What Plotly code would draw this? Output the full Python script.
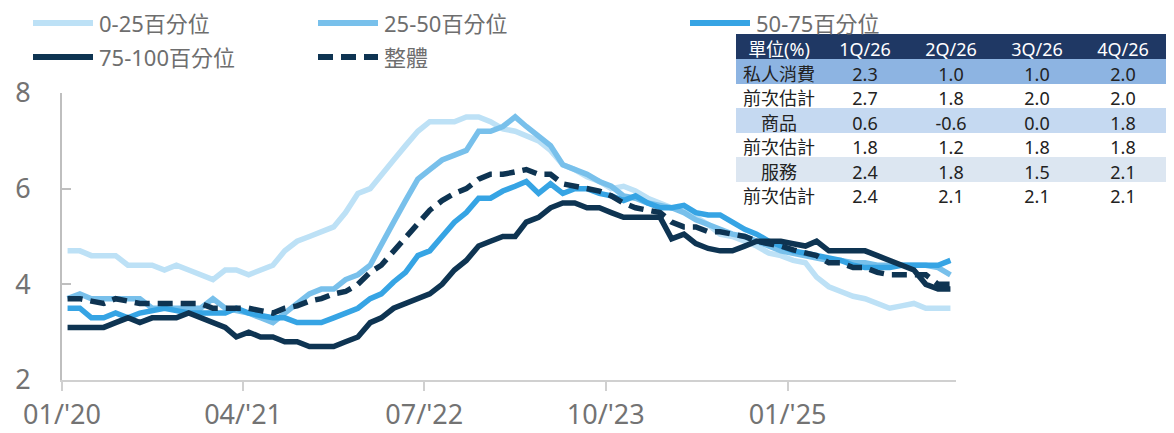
import plotly.graph_objects as go

# The page body has an 8px margin, so the figure is drawn 8px smaller and every
# pixel position below is measured in window pixels and converted with PX / PY.
OFF = 8
W, H = 1174 - OFF, 433 - OFF


def PX(x):
    return (x - OFF) / W


def PY(y):
    return 1 - (y - OFF) / H


# ---------------- data ----------------
n_months = 74
dates = [f"{2020 + i // 12}-{i % 12 + 1:02d}-15" for i in range(n_months)]

p0_25 = [4.7, 4.7, 4.6, 4.6, 4.6, 4.4, 4.4, 4.4, 4.3, 4.4,
         4.3, 4.2, 4.1, 4.3, 4.3, 4.2, 4.3, 4.4, 4.7, 4.9,
         5.0, 5.1, 5.2, 5.5, 5.9, 6.0, 6.3, 6.6, 6.9, 7.2,
         7.4, 7.4, 7.4, 7.5, 7.5, 7.4, 7.25, 7.2, 7.1, 7.0,
         6.8, 6.5, 6.4, 6.25, 6.15, 6.0, 6.05, 5.95, 5.8, 5.7,
         5.6, 5.55, 5.4, 5.25, 5.05, 5.0, 4.9, 4.8, 4.65, 4.6,
         4.5, 4.45, 4.15, 3.95, 3.85, 3.75, 3.7, 3.6, 3.5, 3.55,
         3.6, 3.5, 3.5, 3.5]

p25_50 = [3.7, 3.8, 3.7, 3.7, 3.7, 3.7, 3.7, 3.5, 3.5, 3.5,
          3.5, 3.5, 3.7, 3.5, 3.45, 3.4, 3.3, 3.2, 3.4, 3.6,
          3.8, 3.9, 3.9, 4.1, 4.2, 4.4, 4.8, 5.3, 5.75, 6.2,
          6.4, 6.6, 6.7, 6.8, 7.2, 7.2, 7.3, 7.5, 7.3, 7.1,
          6.9, 6.5, 6.4, 6.3, 6.15, 6.05, 5.85, 5.8, 5.7, 5.65,
          5.6, 5.5, 5.35, 5.25, 5.15, 5.05, 5.0, 4.9, 4.8, 4.7,
          4.65, 4.6, 4.55, 4.5, 4.5, 4.45, 4.45, 4.4, 4.4, 4.4,
          4.4, 4.4, 4.35, 4.2]

p50_75 = [3.5, 3.5, 3.3, 3.3, 3.4, 3.3, 3.4, 3.45, 3.5, 3.45,
          3.4, 3.4, 3.4, 3.4, 3.5, 3.4, 3.35, 3.3, 3.3, 3.2,
          3.2, 3.2, 3.3, 3.4, 3.5, 3.7, 3.8, 4.05, 4.25, 4.6,
          4.7, 5.0, 5.3, 5.5, 5.8, 5.8, 5.95, 6.05, 6.15, 5.9,
          6.1, 5.9, 6.0, 6.0, 5.9, 5.85, 5.75, 5.85, 5.7, 5.6,
          5.6, 5.65, 5.5, 5.45, 5.45, 5.3, 5.15, 5.05, 4.9, 4.8,
          4.7, 4.65, 4.6, 4.55, 4.5, 4.4, 4.35, 4.35, 4.35, 4.4,
          4.4, 4.4, 4.4, 4.5]

p75_100 = [3.1, 3.1, 3.1, 3.1, 3.2, 3.3, 3.2, 3.3, 3.3, 3.3,
           3.4, 3.3, 3.2, 3.1, 2.9, 3.0, 2.9, 2.9, 2.8, 2.8,
           2.7, 2.7, 2.7, 2.8, 2.9, 3.2, 3.3, 3.5, 3.6, 3.7,
           3.8, 4.0, 4.3, 4.5, 4.8, 4.9, 5.0, 5.0, 5.3, 5.4,
           5.6, 5.7, 5.7, 5.6, 5.6, 5.5, 5.4, 5.4, 5.4, 5.4,
           4.95, 5.05, 4.85, 4.75, 4.7, 4.7, 4.8, 4.9, 4.9, 4.9,
           4.85, 4.8, 4.9, 4.7, 4.7, 4.7, 4.7, 4.6, 4.5, 4.4,
           4.3, 4.0, 3.9, 3.9]

overall = [3.7, 3.7, 3.65, 3.6, 3.7, 3.65, 3.6, 3.6, 3.6, 3.6,
           3.6, 3.6, 3.5, 3.5, 3.5, 3.5, 3.45, 3.4, 3.5, 3.55,
           3.65, 3.7, 3.8, 3.85, 4.0, 4.25, 4.4, 4.7, 5.0, 5.3,
           5.55, 5.75, 5.9, 6.0, 6.2, 6.3, 6.3, 6.35, 6.4, 6.3,
           6.3, 6.1, 6.05, 6.0, 5.95, 5.85, 5.7, 5.6, 5.55, 5.5,
           5.3, 5.2, 5.2, 5.1, 5.1, 5.05, 5.0, 4.9, 4.85, 4.8,
           4.72, 4.65, 4.6, 4.45, 4.45, 4.35, 4.35, 4.25, 4.2, 4.2,
           4.2, 4.2, 4.0, 4.0]

series_names = ["0-25百分位", "25-50百分位", "50-75百分位", "75-100百分位", "整體"]

tick_dates = ["2020-01-01", "2021-04-01", "2022-07-01", "2023-10-01", "2025-01-01"]
tick_labels = ["01/'20", "04/'21", "07/'22", "10/'23", "01/'25"]

table_header = ["單位(%)", "1Q/26", "2Q/26", "3Q/26", "4Q/26"]
table_rows = ["私人消費", "前次估計", "商品", "前次估計", "服務", "前次估計"]
q1_26 = ["2.3", "2.7", "0.6", "1.8", "2.4", "2.4"]
q2_26 = ["1.0", "1.8", "-0.6", "1.2", "1.8", "2.1"]
q3_26 = ["1.0", "2.0", "0.0", "1.8", "1.5", "2.1"]
q4_26 = ["2.0", "2.0", "1.8", "1.8", "2.1", "2.1"]

# ---------------- styles ----------------
FONT = "Noto Sans, Noto Sans CJK TC, sans-serif"
colors = ["#BDE1F6", "#78C0EB", "#36A4E4", "#0E3452", "#0E3452"]
dashes = ["solid", "solid", "solid", "solid", "15px,8px"]
values = [p0_25, p25_50, p50_75, p75_100, overall]

fig = go.Figure()
for name, vals, col, dsh in zip(series_names, values, colors, dashes):
    fig.add_trace(go.Scatter(
        x=dates, y=vals, name=name, mode="lines",
        line=dict(color=col, width=5.5, dash=dsh),
        showlegend=False, hoverinfo="x+y+name",
    ))

row_fills = ["#8DB4E2", "#FFFFFF", "#C5D9F1", "#FFFFFF", "#DCE6F1", "#FFFFFF"]
fig.add_trace(go.Table(
    domain=dict(x=[PX(736), PX(1167)], y=[PY(225), PY(34)]),
    columnwidth=[1, 1, 1, 1, 1],
    header=dict(values=table_header, fill_color="#1F3864",
                font=dict(color="white", size=18, family=FONT),
                align="center", height=25, line=dict(width=0, color="#1F3864")),
    cells=dict(values=[table_rows, q1_26, q2_26, q3_26, q4_26],
               fill_color=[row_fills] * 5,
               font=dict(color="#222222", size=18, family=FONT),
               align="center", height=24.5,
               line=dict(width=0, color=[row_fills] * 5)),
))

# ---------------- legend (manual) ----------------
legend_pos = [(33, 23), (318, 23), (690, 23), (33, 57), (318, 57)]
shapes = []
annotations = []
for (lx, ly), name, col, dsh in zip(legend_pos, series_names, colors, dashes):
    shapes.append(dict(type="line", xref="paper", yref="paper",
                       x0=PX(lx), x1=PX(lx + 60), y0=PY(ly), y1=PY(ly),
                       line=dict(color=col, width=6, dash=dsh)))
    annotations.append(dict(xref="paper", yref="paper", x=PX(lx + 64), y=PY(ly),
                            text=name, showarrow=False, xanchor="left", yanchor="middle",
                            font=dict(size=22, color="#6E6E6E", family=FONT)))

fig.update_layout(
    width=W, height=H,
    margin=dict(l=0, r=0, t=0, b=0, pad=0, autoexpand=False),
    paper_bgcolor="white", plot_bgcolor="white",
    font=dict(family=FONT),
    shapes=shapes, annotations=annotations,
    xaxis=dict(
        domain=[PX(62), PX(956)], type="date", automargin=False,
        range=["2020-01-01", "2026-03-01"],
        tickvals=tick_dates, ticktext=tick_labels,
        showline=True, linecolor="#D0D0D0", linewidth=2,
        ticks="outside", ticklen=9, tickwidth=2, tickcolor="#D0D0D0",
        showgrid=False, zeroline=False,
        tickfont=dict(size=27, color="#737373", family=FONT),
        ticklabelstandoff=1,
    ),
    yaxis=dict(
        domain=[PY(380), PY(93)], automargin=False,
        range=[2, 8], tickvals=[2, 4, 6, 8],
        showline=True, linecolor="#BFBFBF", linewidth=2,
        ticks="inside", ticklen=9, tickwidth=2, tickcolor="#BFBFBF",
        showgrid=False, zeroline=False,
        tickfont=dict(size=27, color="#737373", family=FONT),
        ticklabelstandoff=24,
    ),
)

fig.write_html("out.html")
